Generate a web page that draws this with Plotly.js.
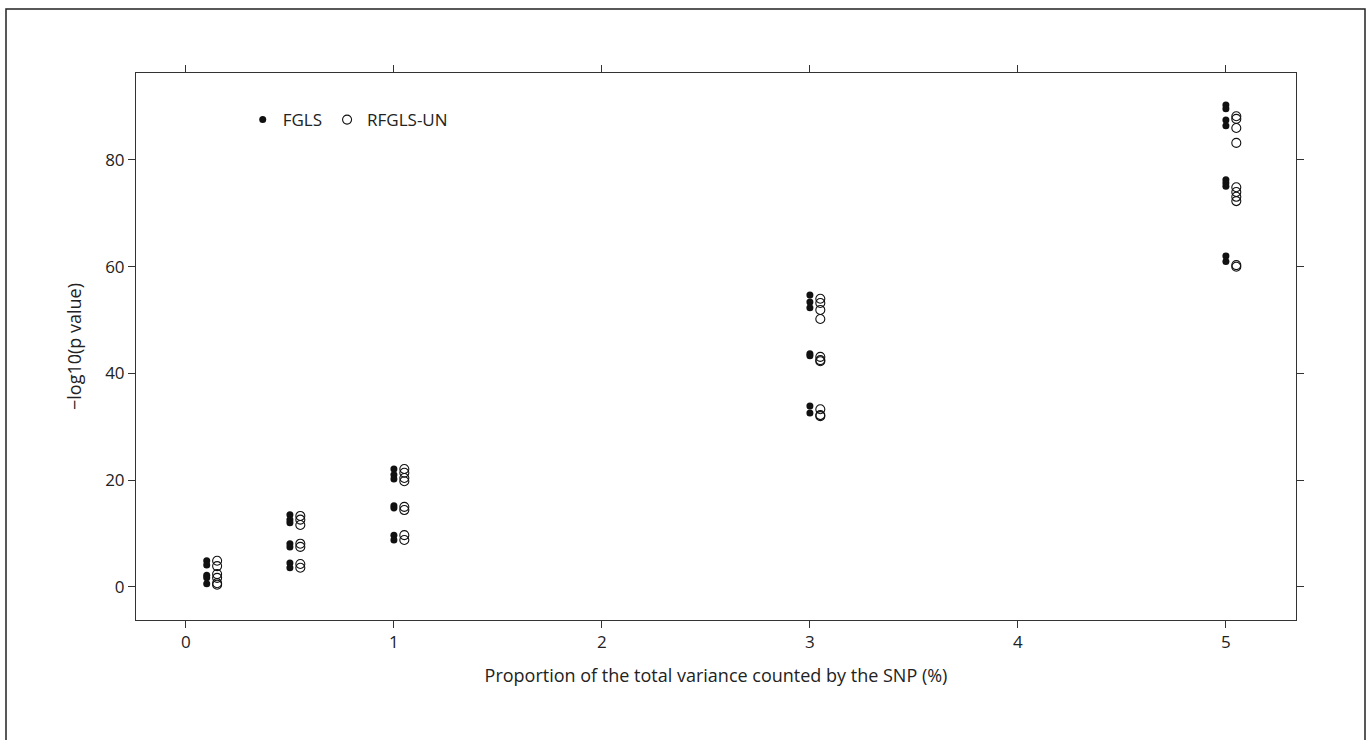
<!DOCTYPE html>
<html>
<head>
<meta charset="utf-8">
<script src="https://cdn.plot.ly/plotly-3.0.1.min.js"></script>
<style>html,body{margin:0;padding:0;background:#fff;}#chart{width:1367px;height:740px;}</style>
</head>
<body>
<div id="chart"></div>
<script>
// FGLS (filled circles)
const xFGLS = [0.1,0.1,0.1,0.1,0.1,
  0.5,0.5,0.5,0.5,0.5,0.5,0.5,
  1,1,1,1,1,1,1,
  3,3,3,3,3,3,3,
  5,5,5,5,5,5,5,5,5];
const yFGLS = [4.9,4.1,2.2,1.7,0.6,
  13.5,12.6,12.0,8.1,7.5,4.5,3.6,
  22.1,21.0,20.2,15.2,14.8,9.7,8.8,
  54.7,53.4,52.3,43.7,43.3,33.9,32.6,
  90.3,89.6,87.5,86.4,76.3,75.7,75.1,62.0,61.0];
// RFGLS-UN (open circles), drawn slightly to the right of each variance level
const xRFGLS = [0.15,0.15,0.15,0.15,0.15,0.15,
  0.55,0.55,0.55,0.55,0.55,0.55,0.55,
  1.05,1.05,1.05,1.05,1.05,1.05,1.05,1.05,
  3.05,3.05,3.05,3.05,3.05,3.05,3.05,3.05,3.05,3.05,
  5.05,5.05,5.05,5.05,5.05,5.05,5.05,5.05,5.05,5.05];
const yRFGLS = [4.9,3.9,2.4,1.7,0.7,0.4,
  13.3,12.6,11.6,8.1,7.5,4.3,3.6,
  22.1,21.4,20.4,19.8,15.0,14.4,9.7,8.8,
  54.0,53.2,51.9,50.2,43.1,42.5,42.3,33.3,32.2,32.0,
  88.2,87.7,86.0,83.2,74.9,74.0,73.1,72.3,60.3,60.0];
const xTicks = [0,1,2,3,4,5];
const yTicks = [0,20,40,60,80];
const seriesNames = ['FGLS','RFGLS-UN'];
const xTitle = 'Proportion of the total variance counted by the SNP (%)';
const yTitle = '\u2212log10(p value)';

const FONT = 'Open Sans, Noto Sans, sans-serif';
const traces = [
  {x: xFGLS, y: yFGLS, name: seriesNames[0], type: 'scatter', mode: 'markers',
   marker: {symbol: 'circle', size: 7, color: '#111', line: {width: 0}}},
  {x: xRFGLS, y: yRFGLS, name: seriesNames[1], type: 'scatter', mode: 'markers',
   marker: {symbol: 'circle-open', size: 9, color: '#111', line: {width: 1.1, color: '#111'}}}
];
const L = 136, R = 1296, T = 73, B = 620, W = 1367, H = 740;
const axisCommon = {showgrid: false, zeroline: false, showline: true, linecolor: '#333', linewidth: 1,
  mirror: 'ticks', ticks: 'outside', ticklen: 7, tickcolor: '#333', tickwidth: 1,
  tickfont: {family: FONT, size: 17, color: '#222'}};
const layout = {
  width: W, height: H,
  margin: {l: L, r: W - R, t: T, b: H - B},
  paper_bgcolor: '#fff', plot_bgcolor: '#fff',
  showlegend: true,
  legend: {orientation: 'h', x: 0.092, y: 0.914, xanchor: 'left', yanchor: 'middle',
    font: {family: FONT, size: 17, color: '#222'}, bgcolor: 'rgba(0,0,0,0)', itemwidth: 30, tracegroupgap: 0},
  xaxis: Object.assign({}, axisCommon, {range: [-0.24, 5.337], tickvals: xTicks, ticktext: xTicks.map(String),
    title: {text: xTitle, font: {family: FONT, size: 18, color: '#222'}, standoff: 16}}),
  yaxis: Object.assign({}, axisCommon, {range: [-6.2, 96.3], tickvals: yTicks, ticktext: yTicks.map(String),
    title: {text: yTitle, font: {family: FONT, size: 18, color: '#222'}, standoff: 18}}),
  shapes: [{type: 'rect', xref: 'paper', yref: 'paper',
    x0: (6 - L) / (R - L), x1: (1365 - L) / (R - L),
    y0: (B - 745) / (B - T), y1: (B - 9) / (B - T),
    line: {color: '#222', width: 1.5}, fillcolor: 'rgba(0,0,0,0)', layer: 'below'}]
};
Plotly.newPlot('chart', traces, layout, {displayModeBar: false, staticPlot: true});
</script>
</body>
</html>
